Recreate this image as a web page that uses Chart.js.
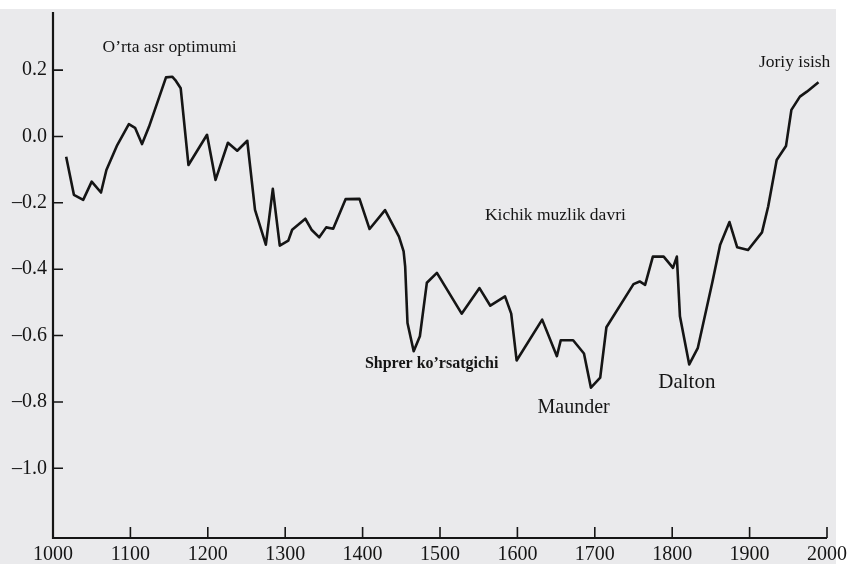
<!DOCTYPE html>
<html>
<head>
<meta charset="utf-8">
<script src="https://cdn.jsdelivr.net/npm/chart.js@4.4.0/dist/chart.umd.min.js"></script>
<style>
  html, body { margin: 0; padding: 0; background: #fff; }
  canvas { display: block; }
</style>
</head>
<body>
<canvas id="chart" width="851" height="564"></canvas>
<script>
// temperature anomaly (year, deg C)
const years = [
  1017, 1027, 1039, 1050, 1062, 1069, 1083, 1098, 1106, 1115,
  1124, 1146, 1154, 1158, 1165, 1175, 1199, 1210, 1226, 1238,
  1251, 1261, 1275, 1284, 1293, 1304, 1309, 1326, 1334, 1344,
  1353, 1362, 1378, 1396, 1409, 1429, 1447, 1453, 1455, 1458,
  1466, 1474, 1483, 1496, 1528, 1551, 1565, 1584, 1592, 1599,
  1632, 1651, 1656, 1672, 1686, 1695, 1707, 1715, 1750, 1758,
  1765, 1775, 1789, 1801, 1806, 1810, 1822, 1833, 1852, 1862,
  1874, 1884, 1898, 1916, 1924, 1935, 1947, 1954, 1965, 1974, 1989
];
const anomalies = [
  -0.061, -0.176, -0.191, -0.136, -0.169, -0.101, -0.026, 0.037, 0.026, -0.023,
  0.029, 0.178, 0.180, 0.170, 0.145, -0.086, 0.005, -0.131, -0.019, -0.043,
  -0.013, -0.221, -0.326, -0.158, -0.329, -0.314, -0.281, -0.248, -0.281, -0.304,
  -0.274, -0.278, -0.189, -0.188, -0.279, -0.222, -0.302, -0.346, -0.392, -0.562,
  -0.647, -0.602, -0.441, -0.411, -0.534, -0.457, -0.510, -0.482, -0.534, -0.675,
  -0.552, -0.662, -0.614, -0.614, -0.654, -0.757, -0.727, -0.575, -0.445, -0.437,
  -0.447, -0.362, -0.362, -0.396, -0.362, -0.542, -0.687, -0.638, -0.438, -0.326,
  -0.258, -0.334, -0.342, -0.289, -0.211, -0.071, -0.029, 0.080, 0.120, 0.135, 0.163
];

const xTicks = [1000, 1100, 1200, 1300, 1400, 1500, 1600, 1700, 1800, 1900, 2000];
const yTicks = [0.2, 0.0, -0.2, -0.4, -0.6, -0.8, -1.0];

// period labels, anchored in data units (left edge, baseline)
const noteTexts = ['O’rta asr optimumi', 'Joriy isish', 'Kichik muzlik davri',
                   'Shprer ko’rsatgichi', 'Maunder', 'Dalton'];
const noteYears = [1064, 1912, 1558, 1403, 1626, 1782];
const noteValues = [0.254, 0.209, -0.251, -0.699, -0.832, -0.759];
const noteFonts = ['17.5px', '17.5px', '17.5px', 'bold 16px', '20px', '21px'];

const serif = '"Liberation Serif", "DejaVu Serif", serif';
const ink = '#151515';

const paper = {
  id: 'paper',
  beforeDraw(chart) {
    const ctx = chart.ctx;
    ctx.save();
    ctx.fillStyle = '#ffffff';
    ctx.fillRect(0, 0, chart.width, chart.height);
    ctx.fillStyle = '#eaeaec';
    ctx.fillRect(0, 9, 836, chart.height - 9);
    ctx.restore();
  }
};

const frame = {
  id: 'frame',
  afterDatasetsDraw(chart) {
    const { ctx, chartArea: a, scales } = chart;
    ctx.save();
    ctx.strokeStyle = ink;
    ctx.lineCap = 'butt';
    ctx.lineWidth = 2.2;
    ctx.beginPath();
    ctx.moveTo(a.left, a.top);
    ctx.lineTo(a.left, a.bottom);
    ctx.lineTo(a.right, a.bottom);
    ctx.stroke();

    // inward tick marks
    ctx.lineWidth = 1.6;
    ctx.beginPath();
    yTicks.forEach(v => {
      const py = scales.y.getPixelForValue(v);
      ctx.moveTo(a.left, py);
      ctx.lineTo(a.left + 10, py);
    });
    xTicks.slice(1).forEach(v => {
      const px = scales.x.getPixelForValue(v);
      ctx.moveTo(px, a.bottom);
      ctx.lineTo(px, a.bottom - 11);
    });
    ctx.stroke();

    // period labels
    ctx.fillStyle = ink;
    ctx.textAlign = 'left';
    ctx.textBaseline = 'alphabetic';
    noteTexts.forEach((t, i) => {
      ctx.font = noteFonts[i] + ' ' + serif;
      ctx.fillText(t, scales.x.getPixelForValue(noteYears[i]), scales.y.getPixelForValue(noteValues[i]));
    });
    ctx.restore();
  }
};

new Chart(document.getElementById('chart').getContext('2d'), {
  type: 'line',
  data: {
    datasets: [{
      data: years.map((yr, i) => ({ x: yr, y: anomalies[i] })),
      borderColor: ink,
      borderWidth: 2.6,
      borderJoinStyle: 'round',
      pointRadius: 0,
      tension: 0,
      fill: false
    }]
  },
  options: {
    responsive: false,
    devicePixelRatio: 1,
    animation: false,
    layout: { padding: { top: 12, right: 24, left: 0, bottom: 0 } },
    plugins: {
      legend: { display: false },
      tooltip: { enabled: false }
    },
    scales: {
      x: {
        type: 'linear',
        min: 1000,
        max: 2000,
        afterBuildTicks: s => { s.ticks = xTicks.map(v => ({ value: v })); },
        afterFit: s => { s.height = 26; s.paddingLeft = 0; s.paddingRight = 0; },
        grid: { display: false, drawTicks: false },
        border: { display: false },
        ticks: {
          padding: 5,
          maxRotation: 0,
          autoSkip: false,
          color: ink,
          font: { family: serif, size: 20 },
          callback: v => String(v)
        }
      },
      y: {
        min: -1.21,
        max: 0.375,
        afterBuildTicks: s => { s.ticks = yTicks.map(v => ({ value: v })); },
        afterFit: s => { s.width = 53; s.paddingTop = 0; s.paddingBottom = 0; },
        grid: { display: false, drawTicks: false },
        border: { display: false },
        ticks: {
          padding: 6,
          autoSkip: false,
          color: ink,
          font: { family: serif, size: 20 },
          callback: v => (v < -0.001 ? '\u2013' : '') + Math.abs(v).toFixed(1)
        }
      }
    }
  },
  plugins: [paper, frame]
});
</script>
</body>
</html>
